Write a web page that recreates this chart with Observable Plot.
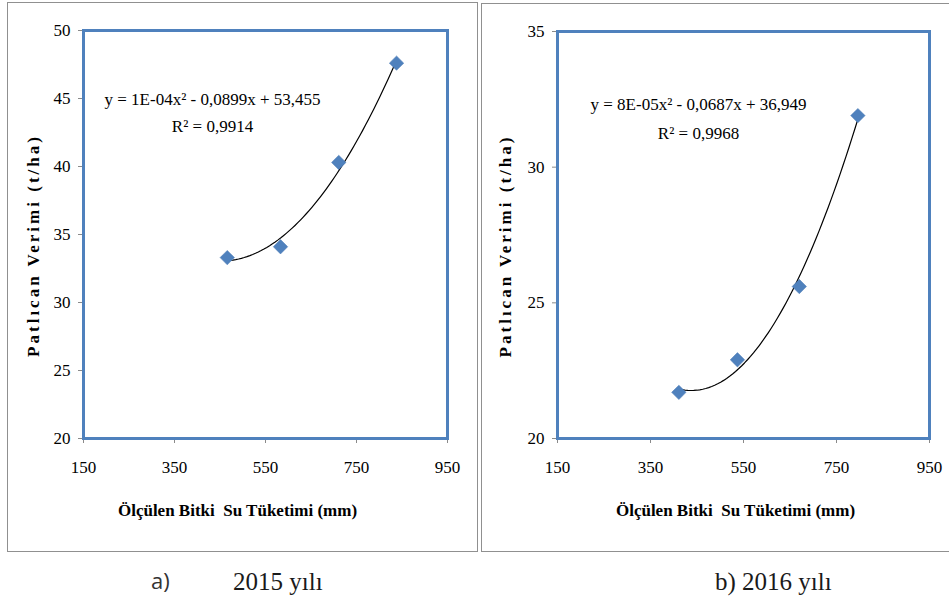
<!DOCTYPE html>
<html><head><meta charset="utf-8">
<script src="https://cdn.jsdelivr.net/npm/d3@7"></script>
<script src="https://cdn.jsdelivr.net/npm/@observablehq/plot@0.6"></script>
<style>
html,body{margin:0;padding:0;background:#fff;}
#page{position:relative;width:949px;height:603px;overflow:hidden;background:#fff;}
.box{position:absolute;border:1.5px solid #909090;box-sizing:border-box;}
.chart{position:absolute;}
.cap{position:absolute;font-family:"Liberation Serif",serif;font-size:25px;color:#1a1a1a;white-space:nowrap;line-height:1;}
</style></head><body>
<div id="page">
 <div class="box" style="left:7px;top:2px;width:471px;height:550px"></div>
 <div class="box" style="left:481px;top:3px;width:470px;height:549px;"></div>
 <div id="c1" class="chart" style="left:8px;top:3px"></div>
 <div id="c2" class="chart" style="left:482px;top:4px"></div>
 <div class="cap" style="left:151px;top:569px;font-family:'Open Sans',sans-serif;font-size:22px;color:#333">a)</div>
 <div class="cap" style="left:233px;top:569px">2015 yılı</div>
 <div class="cap" style="left:715px;top:569px">b) 2016 yılı</div>
</div>
<script>
const xLabel = "Ölçülen Bitki  Su Tüketimi (mm)";
const yLabel = "Patlıcan Verimi (t/ha)";
const xTicks = [150, 350, 550, 750, 950];

const water2015 = [466, 583, 711, 838];
const yield2015 = [33.3, 34.1, 40.3, 47.6];
const eq2015 = "y = 1E-04x² - 0,0899x + 53,455";
const r2_2015 = "R² = 0,9914";
const yTicks2015 = [20, 25, 30, 35, 40, 45, 50];

const water2016 = [411, 537, 670, 796];
const yield2016 = [21.7, 22.9, 25.6, 31.9];
const eq2016 = "y = 8E-05x² - 0,0687x + 36,949";
const r2_2016 = "R² = 0,9968";
const yTicks2016 = [20, 25, 30, 35];

const serif = "Liberation Serif";

// least-squares quadratic trendline through the observed points
function quadFit(xs, ys) {
  const m = d3.mean(xs);
  const S = [0,0,0,0,0], T = [0,0,0];
  xs.forEach((x0, i) => {
    const x = x0 - m;
    for (let k = 0; k < 5; k++) S[k] += x ** k;
    for (let k = 0; k < 3; k++) T[k] += ys[i] * x ** k;
  });
  const A = [[S[0],S[1],S[2],T[0]],[S[1],S[2],S[3],T[1]],[S[2],S[3],S[4],T[2]]];
  for (let c = 0; c < 3; c++) {
    for (let r = c + 1; r < 3; r++) {
      const f = A[r][c] / A[c][c];
      for (let k = c; k < 4; k++) A[r][k] -= f * A[c][k];
    }
  }
  const b = [0,0,0];
  for (let r = 2; r >= 0; r--) {
    let s = A[r][3];
    for (let k = r + 1; k < 3; k++) s -= A[r][k] * b[k];
    b[r] = s / A[r][r];
  }
  const [x0, x1] = d3.extent(xs);
  return d3.range(61).map(i => {
    const x = x0 + (x1 - x0) * i / 60, u = x - m;
    return {x, y: b[0] + b[1] * u + b[2] * u * u};
  });
}

function panel(el, opts) {
  const pts = opts.xs.map((x, i) => ({x, y: opts.ys[i]}));
  const svg = Plot.plot({
    width: opts.width, height: opts.height,
    marginLeft: 75, marginRight: opts.marginRight, marginTop: 27, marginBottom: 111,
    style: {fontFamily: serif, fontSize: "17px", color: "#000", background: "transparent", overflow: "visible"},
    x: {domain: [150, 950]},
    y: {domain: [opts.yTicks[0], opts.yTicks[opts.yTicks.length - 1]]},
    marks: [
      Plot.axisX({ticks: xTicks, tickSize: 5, tickPadding: 17, label: null, stroke: "#8a8a8a", fill: "#000", fontFamily: serif, fontSize: 17, tickFormat: d => String(d)}),
      Plot.axisY({ticks: opts.yTicks, tickSize: 5, tickPadding: 8, label: null, stroke: "#8a8a8a", fill: "#000", fontFamily: serif, fontSize: 17, tickFormat: d => String(d)}),
      Plot.frame({stroke: "#4f81bd", strokeWidth: 3}),
      Plot.line(quadFit(opts.xs, opts.ys), {x: "x", y: "y", stroke: "#000", strokeWidth: 1.2}),
      Plot.dot(pts, {x: "x", y: "y", symbol: "diamond2", r: 6.5, fill: "#4f81bd", stroke: "#4a7bb5", strokeWidth: 0.5}),
      Plot.text([opts.eq], {frameAnchor: "top-left", dx: opts.eqDx, dy: opts.eqDy, textAnchor: "middle", fontFamily: serif, fontSize: 17, fill: "#000"}),
      Plot.text([opts.r2], {frameAnchor: "top-left", dx: opts.eqDx, dy: opts.eqDy + opts.r2Gap, textAnchor: "middle", fontFamily: serif, fontSize: 17, fill: "#000"}),
      Plot.text([xLabel], {frameAnchor: "bottom", textAnchor: "middle", dx: opts.xtDx, dy: 77, fontFamily: serif, fontSize: 17, fontWeight: "bold", fill: "#000"}),
      Plot.text([yLabel], {frameAnchor: "left", textAnchor: "middle", rotate: -90, dx: opts.ytDx, dy: 11, fontFamily: serif, fontSize: 17, fontWeight: "bold", fill: "#000"})
    ]
  });
  d3.select(svg).selectAll("text").filter(function() { return this.textContent === yLabel; })
    .attr("letter-spacing", "3px");
  d3.select(svg).selectAll("text").filter(function() { return this.textContent === xLabel; })
    .style("white-space", "pre");
  document.getElementById(el).appendChild(svg);
}

panel("c1", {width: 468, height: 546, marginRight: 29, xs: water2015, ys: yield2015, yTicks: yTicks2015,
  eq: eq2015, r2: r2_2015, eqDx: 129, eqDy: 62, r2Gap: 27, xtDx: -28, ytDx: -50});
panel("c2", {width: 467, height: 545, marginRight: 20, xs: water2016, ys: yield2016, yTicks: yTicks2016,
  eq: eq2016, r2: r2_2016, eqDx: 141, eqDy: 66, r2Gap: 29, xtDx: -8, ytDx: -52});
</script>
</body></html>
